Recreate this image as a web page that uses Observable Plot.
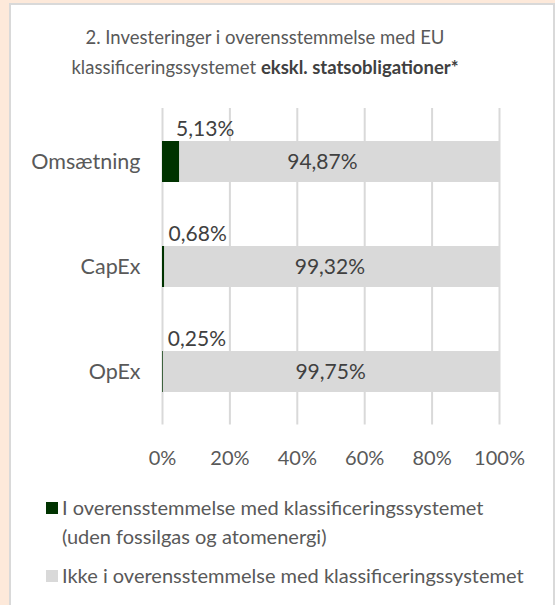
<!DOCTYPE html>
<html>
<head>
<meta charset="utf-8">
<script src="https://cdn.jsdelivr.net/npm/d3@7"></script>
<script src="https://cdn.jsdelivr.net/npm/@observablehq/plot@0.6"></script>
<style>
  html, body { margin: 0; padding: 0; }
  body { width: 555px; height: 605px; background: #fde9da; position: relative; overflow: hidden; font-family: Lato, sans-serif; }
  #panel { position: absolute; left: 9px; top: 3px; width: 546px; height: 620px; box-sizing: border-box; border: 2px solid #d9d9d9; border-bottom: none; background: #fff; }
  #title { position: absolute; left: 0; top: 22px; width: 530px; text-align: center; font-size: 18.5px; line-height: 30px; color: #595959; white-space: nowrap; }
  #title b { color: #404040; }
  #chart { position: absolute; left: 0; top: 0; }
  .leg { position: absolute; left: 62px; font-size: 20px; line-height: 29px; color: #595959; white-space: nowrap; }
  .sw { position: absolute; width: 12px; height: 12px; left: 46px; }
</style>
</head>
<body>
<div id="panel"></div>
<div id="title">2. Investeringer i overensstemmelse med EU<br>klassificeringssystemet <b>ekskl. statsobligationer*</b></div>
<div id="chart"></div>
<div id="legend"></div>
<script>
const categories = ["Omsætning", "CapEx", "OpEx"];
const seriesNames = [
  "I overensstemmelse med klassificeringssystemet (uden fossilgas og atomenergi)",
  "Ikke i overensstemmelse med klassificeringssystemet"
];
const alignedValues = [5.13, 0.68, 0.25];
const notAlignedValues = [94.87, 99.32, 99.75];
const xTicks = [0, 20, 40, 60, 80, 100];
const colors = ["#003300", "#d9d9d9"];

const rows = [];
categories.forEach((c, i) => {
  rows.push({cat: c, series: seriesNames[0], value: alignedValues[i]});
  rows.push({cat: c, series: seriesNames[1], value: notAlignedValues[i]});
});
const fmt = v => v.toFixed(2).replace(".", ",") + "%";

const chart = Plot.plot({
  width: 555,
  height: 480,
  marginLeft: 162,
  marginRight: 56,
  marginTop: 108,
  marginBottom: 55.5,
  style: {background: "transparent", fontFamily: "Lato, sans-serif"},
  x: {domain: [0, 100], ticks: xTicks},
  y: {domain: categories, paddingInner: 0.611, paddingOuter: 0.3055},
  color: {domain: seriesNames, range: colors},
  marks: [
    Plot.gridX(xTicks, {stroke: "#d9d9d9", strokeOpacity: 1, strokeWidth: 2}),
    Plot.barX(rows, {x: "value", y: "cat", fill: "series"}),
    Plot.text(rows.filter(d => d.series === seriesNames[1]),
      Plot.stackX({x: "value", y: "cat", text: d => fmt(d.value), fontSize: 21, fill: "#404040"})),
    Plot.text(rows.filter(d => d.series === seriesNames[0]),
      {x: d => d.value / 2, y: "cat", text: d => fmt(d.value), dx: 34, dy: -33, fontSize: 21, fill: "#404040"}),
    Plot.axisX(xTicks, {tickSize: 0, tickPadding: 25.5, fontSize: 20, fill: "#595959", tickFormat: d => d + "%", label: null}),
    Plot.axisY({tickSize: 0, tickPadding: 22, fontSize: 21.5, fill: "#595959", label: null})
  ]
});
document.getElementById("chart").appendChild(chart);

const legend = document.getElementById("legend");
const legItems = [
  {color: colors[0], lines: ["I overensstemmelse med klassificeringssystemet", "(uden fossilgas og atomenergi)"], top: 493},
  {color: colors[1], lines: ["Ikke i overensstemmelse med klassificeringssystemet"], top: 561}
];
legItems.forEach(it => {
  const sw = document.createElement("div");
  sw.className = "sw";
  sw.style.background = it.color;
  sw.style.top = (it.top + 9) + "px";
  legend.appendChild(sw);
  const t = document.createElement("div");
  t.className = "leg";
  t.style.top = it.top + "px";
  t.innerHTML = it.lines.join("<br>");
  legend.appendChild(t);
});
</script>
</body>
</html>
